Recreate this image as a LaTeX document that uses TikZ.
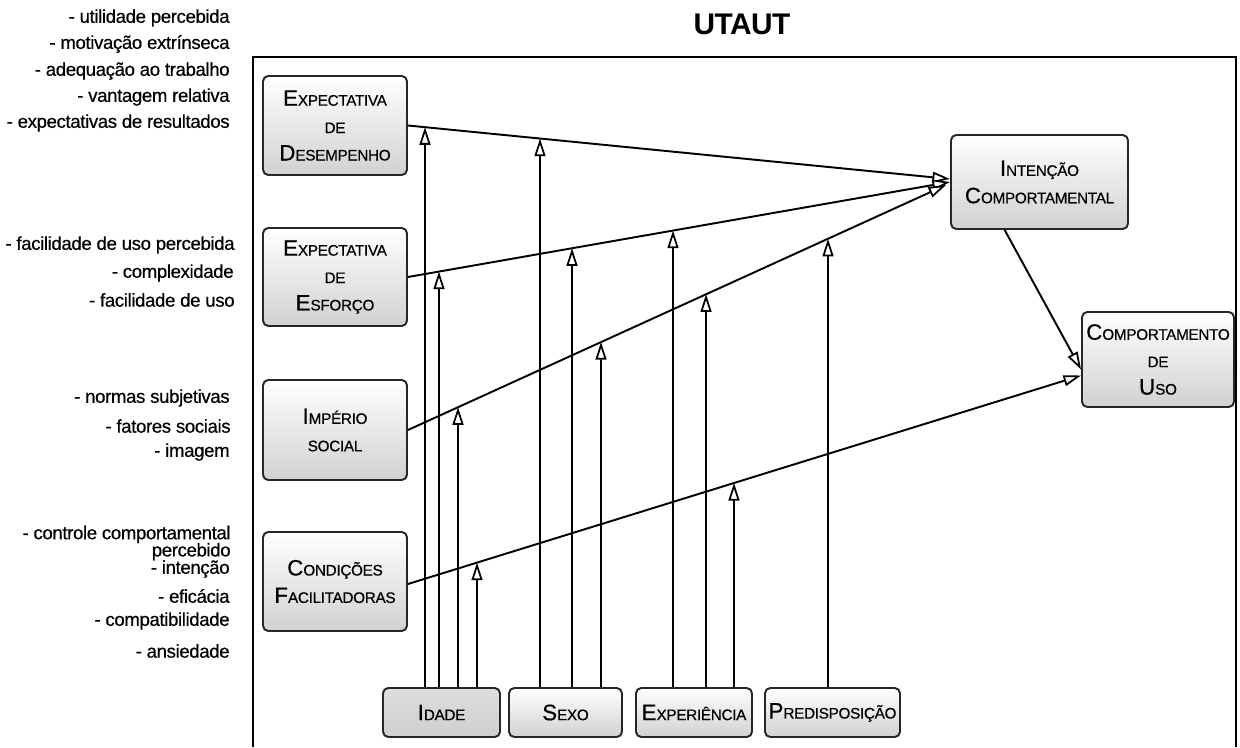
\documentclass[tikz,border=0pt]{standalone}
\usepackage{fontspec}
\setmainfont{Liberation Sans}[FakeBold=0.5, LetterSpace=-2]
\newfontfamily\titlefont{Liberation Sans}[LetterSpace=-2]
\usetikzlibrary{arrows.meta,calc}

% fake small caps: full-size initial, reduced capitals after it
\newcommand\capsI[2]{{\fontsize{12.7}{12}\selectfont #1}{\fontsize{8.7}{10}\selectfont #2}}

\tikzset{
  construct/.style={draw=black!85, line width=1.1pt, rounded corners=3pt,
    top color=white, bottom color=black!18, align=center, inner sep=0pt,
    font={\fontsize{12.7}{15.6}\selectfont}},
  modbox/.style={construct, minimum height=49*0.02cm, font={\fontsize{12.7}{13}\selectfont}},
  item/.style={anchor=east, inner sep=0pt, font={\fontsize{10.6}{12}\selectfont}},
  flow/.style={line width=1.1pt, -{Triangle[open, fill=white, length=10pt, width=6.2pt, line width=1pt]}},
  moder/.style={flow}
}

\begin{document}
\begin{tikzpicture}[x=0.02cm, y=-0.02cm]
\useasboundingbox (0,0) rectangle (1240,747);

% title and frame
\node (title) at (742,24) {\titlefont\fontsize{17}{20}\selectfont\bfseries UTAUT};
\draw[line width=1.4pt] (253,747) -- (253,57) -- (1236,57) -- (1236,747);

% determinants
\node[construct, minimum width=144*0.02cm, minimum height=99*0.02cm] (ed) at (335,125.5)
  {\capsI{E}{XPECTATIVA}\\\capsI{}{DE}\\\capsI{D}{ESEMPENHO}};
\node[construct, minimum width=144*0.02cm, minimum height=98*0.02cm] (ee) at (335,277)
  {\capsI{E}{XPECTATIVA}\\\capsI{}{DE}\\\capsI{E}{SFORÇO}};
\node[construct, minimum width=144*0.02cm, minimum height=100*0.02cm] (is) at (335,430)
  {\capsI{I}{MPÉRIO}\\\capsI{}{SOCIAL}};
\node[construct, minimum width=144*0.02cm, minimum height=99*0.02cm] (cf) at (335,581.5)
  {\capsI{C}{ONDIÇÕES}\\\capsI{F}{ACILITADORAS}};

% outcomes
\node[construct, minimum width=177*0.02cm, minimum height=94*0.02cm] (ic) at (1039.5,182)
  {\capsI{I}{NTENÇÃO}\\\capsI{C}{OMPORTAMENTAL}};
\node[construct, minimum width=152*0.02cm, minimum height=95*0.02cm] (cu) at (1158,359.5)
  {\capsI{C}{OMPORTAMENTO}\\\capsI{}{DE}\\\capsI{U}{SO}};

% moderators
\node[modbox, minimum width=117*0.02cm, top color=black!13, bottom color=black!19] (idade) at (441.5,712.5) {\capsI{I}{DADE}};
\node[modbox, minimum width=113*0.02cm] (sexo) at (565.5,712.5) {\capsI{S}{EXO}};
\node[modbox, minimum width=116*0.02cm] (exper) at (694,712.5) {\capsI{E}{XPERIÊNCIA}};
\node[modbox, minimum width=135*0.02cm] (pred) at (832.5,712.5) {\capsI{P}{REDISPOSIÇÃO}};

% source constructs listed beside each determinant
\node[item] (l1) at (230,18) {- utilidade percebida};
\node[item] (l2) at (230,44) {- motivação extrínseca};
\node[item] (l3) at (230,71) {- adequação ao trabalho};
\node[item] (l4) at (230,97) {- vantagem relativa};
\node[item] (l5) at (230,123) {- expectativas de resultados};

\node[item] (l6) at (235,245) {- facilidade de uso percebida};
\node[item] (l7) at (234,273) {- complexidade};
\node[item] (l8) at (235,300) {- facilidade de uso};

\node[item] (l9) at (230,398) {- normas subjetivas};
\node[item] (l10) at (231,426) {- fatores sociais};
\node[item] (l11) at (230,452) {- imagem};

\node[item, align=right] (l12) at (231,543)
  {- controle comportamental\\[-2.2pt]percebido};
\node[item] (l14) at (230,569) {- intenção};
\node[item] (l15) at (230,596) {- eficácia};
\node[item] (l16) at (230,621) {- compatibilidade};
\node[item] (l17) at (230,651) {- ansiedade};

% end points of the main paths
\coordinate (edS) at (ed.east);   \coordinate (edE) at ($(ic.west)+(0,-3)$);
\coordinate (eeS) at (ee.east);   \coordinate (eeE) at (ic.west);
\coordinate (isS) at (is.east);   \coordinate (isE) at ($(ic.west)+(-4,3)$);
\coordinate (cfS) at ($(cf.east)+(0,2.5)$); \coordinate (cfE) at ($(cu.west)+(0,16)$);

% main paths
\draw[flow] (edS) -- (edE);
\draw[flow] (eeS) -- (eeE);
\draw[flow] (isS) -- (isE);
\draw[flow] (cfS) -- (cfE);
\draw[flow] (ic.234) -- ($(cu.west)+(0,10)$);

% moderating effects, from each moderator up to the path it affects
\foreach \x/\src/\tgt in {425/idade/ed, 439/idade/ee, 458/idade/is, 477/idade/cf,
                          540/sexo/ed, 572/sexo/ee, 601/sexo/is,
                          673/exper/ee, 706/exper/is, 734/exper/cf,
                          828/pred/is} {
  \coordinate (top) at (\x,60);
  \coordinate (bot) at (top |- \src.north);
  \draw[moder] (bot) -- (intersection of top--bot and \tgt S--\tgt E);
}
\end{tikzpicture}
\end{document}
